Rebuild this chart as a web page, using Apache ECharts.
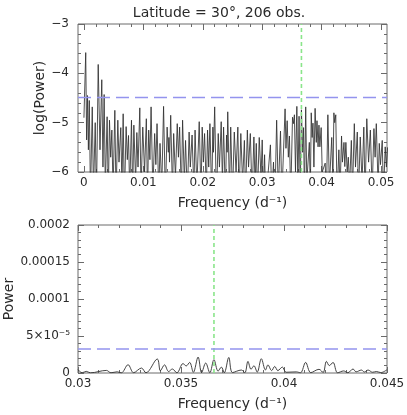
<!DOCTYPE html>
<html><head><meta charset="utf-8">
<script src="https://cdn.jsdelivr.net/npm/echarts@6/dist/echarts.min.js"></script>
<style>html,body{margin:0;padding:0;background:#fff}#c{width:407px;height:415px}</style>
</head><body><div id="c"></div>
<script>
// ---------- text ----------
const titleText = 'Latitude = 30°, 206 obs.';
const xAxisName = 'Frequency (d⁻¹)';
const topYName = 'log(Power)';
const bottomYName = 'Power';

// ---------- reference lines ----------
const markerFreq = 0.0366;          // vertical green dashed line
const topThresholdLog = -4.49;      // blue dashed line, log(Power)
const bottomThreshold = 3.24e-5;    // blue dashed line, Power

// ---------- tick labels ----------
const topXTicks = [0, 0.01, 0.02, 0.03, 0.04, 0.05];
const topXLabels = ['0', '0.01', '0.02', '0.03', '0.04', '0.05'];
const topYTicks = [-6, -5, -4, -3];
const topYLabels = ['−6', '−5', '−4', '−3'];
const bottomXTicks = [0.03, 0.035, 0.04, 0.045];
const bottomXLabels = ['0.03', '0.035', '0.04', '0.045'];
const bottomYTicks = [0, 5e-5, 1e-4, 1.5e-4, 2e-4];
const bottomYLabels = ['0', '5×10⁻⁵', '0.0001', '0.00015', '0.0002'];

// ---------- top panel: log power spectrum ----------
const topFreq = [
0.0000,0.0003,0.00045,0.0006,0.00075,0.0009,0.0011,0.0014,0.0016,0.0019,
0.0021,0.0024,0.0027,0.0030,0.0032,0.0034,0.0036,0.0039,0.0041,0.0043,
0.0045,0.0047,0.0049,0.0052,0.0054,0.0057,0.0059,0.0062,0.0064,0.0066,
0.0068,0.0071,0.0073,0.0075,0.0077,0.0080,0.0082,0.0084,0.0087,0.0089,
0.0091,0.0094,0.0096,0.0099,0.0102,0.0105,0.0107,0.0109,0.0111,0.0113,
0.0116,0.0119,0.0121,0.0123,0.0126,0.0128,0.0131,0.0134,0.0137,0.0140,
0.0142,0.0143,0.0144,0.0146,0.0149,0.0151,0.0154,0.0157,0.0159,0.0161,
0.0164,0.0166,0.0169,0.0171,0.0174,0.0177,0.0179,0.0182,0.0185,0.0187,
0.0190,0.0194,0.0197,0.0199,0.0201,0.0203,0.0206,0.0208,0.0210,0.0212,
0.0215,0.0217,0.0218,0.0220,0.0223,0.0226,0.0228,0.0231,0.0233,0.0235,
0.0238,0.0240,0.0241,0.0242,0.0245,0.0247,0.0250,0.0253,0.0256,0.0259,
0.0261,0.0264,0.0267,0.0270,0.0272,0.0275,0.0277,0.0280,0.0283,0.0286,
0.0288,0.0290,0.0292,0.0295,0.0298,0.0300,0.0302,0.0304,0.0306,0.03138,
0.0316,0.0319,0.0321,0.03243,0.0327,0.03308,0.0333,0.03385,0.0340,0.0342,
0.0344,0.03458,0.0348,0.0351,0.03525,0.03542,0.0356,0.03583,0.0360,0.0362,
0.0364,0.0366,0.0368,0.03696,0.0371,0.03732,0.0375,0.03793,0.0381,0.03825,
0.0384,0.03854,0.0387,0.0389,0.0391,0.03922,0.0394,0.03955,0.0397,0.03992,
0.0401,0.0406,0.0408,0.04105,0.0413,0.0417,0.0419,0.04206,0.0422,0.04238,
0.0426,0.0429,0.0431,0.04335,0.0435,0.04376,0.0439,0.04408,0.0443,0.04449,
0.0447,0.0450,0.0452,0.0455,0.0457,0.0460,0.0462,0.0465,0.0468,0.0471,
0.0473,0.0476,0.0479,0.0482,0.0485,0.0488,0.0490,0.0492,0.0495,0.0497,
0.0499,0.0502,0.0504,0.0507,0.0509,0.0511
];
const topLogPower = [
-4.9,-3.58,-5.35,-4.45,-5.55,-4.55,-6.5,-4.68,-6.4,-5.00,
-6.6,-3.82,-5.55,-4.13,-5.9,-4.43,-6.3,-4.88,-6.5,-4.95,
-5.7,-5.15,-6.4,-4.75,-6.5,-4.95,-5.8,-5.10,-6.3,-4.82,
-6.6,-5.08,-5.75,-5.26,-6.4,-4.95,-6.5,-5.05,-6.2,-5.20,
-5.9,-4.70,-6.4,-5.09,-6.0,-4.92,-6.5,-5.15,-5.75,-4.68,
-6.4,-5.22,-5.85,-5.02,-6.5,-5.42,-6.3,-4.67,-6.5,-5.09,
-5.6,-5.30,-5.8,-4.85,-6.4,-5.22,-6.1,-5.02,-5.7,-5.09,
-6.5,-4.95,-6.2,-5.36,-6.5,-5.19,-5.9,-5.25,-6.4,-5.15,
-6.3,-4.98,-6.5,-5.09,-5.8,-5.22,-6.4,-5.15,-5.9,-5.02,
-6.5,-5.09,-5.6,-4.68,-6.6,-5.22,-5.9,-4.98,-6.2,-5.09,
-6.5,-5.25,-5.6,-4.78,-6.4,-5.09,-6.5,-5.19,-6.0,-5.09,
-6.5,-5.22,-6.2,-5.36,-6.5,-5.15,-5.9,-5.22,-6.5,-5.29,
-6.3,-5.42,-6.5,-5.30,-6.1,-5.35,-6.5,-5.65,-6.6,-5.45,
-6.5,-5.8,-6.8,-4.95,-6.4,-5.17,-6.5,-4.72,-5.52,-4.96,
-5.7,-5.27,-6.5,-4.89,-5.02,-4.84,-6.0,-4.67,-6.3,-4.87,
-6.4,-4.74,-5.6,-5.10,-6.5,-4.68,-6.2,-5.40,-6.4,-4.80,
-5.30,-5.01,-5.9,-4.71,-5.40,-4.96,-5.49,-5.05,-5.49,-5.10,
-6.0,-5.82,-6.5,-4.84,-6.3,-5.30,-6.2,-4.80,-5.00,-4.84,
-6.5,-5.55,-6.4,-5.27,-5.8,-5.40,-5.89,-5.40,-6.0,-5.70,
-6.3,-5.36,-6.4,-5.02,-5.9,-5.19,-6.5,-5.29,-6.2,-5.09,
-6.5,-4.92,-5.8,-5.15,-6.4,-5.12,-5.7,-5.02,-6.3,-5.42,
-5.85,-5.36,-6.5,-5.49,-5.9,-5.5
];

// ---------- bottom panel: linear power, zoom 0.03–0.045 ----------
const bottomFreq = [
0.0300,0.0302,0.0304,0.0306,0.03138,0.0316,0.0319,0.0321,0.03243,0.0327,
0.03308,0.0333,0.03385,0.0340,0.0342,0.0344,0.03458,0.0348,0.0351,0.03525,
0.03542,0.0356,0.03583,0.0360,0.0362,0.0364,0.0366,0.0368,0.03696,0.0371,
0.03732,0.0375,0.03793,0.0381,0.03825,0.0384,0.03854,0.0387,0.0389,0.0391,
0.03922,0.0394,0.03955,0.0397,0.03992,0.0401,0.0406,0.0408,0.04105,0.0413,
0.0417,0.0419,0.04206,0.0422,0.04238,0.0426,0.0429,0.0431,0.04335,0.0435,
0.04376,0.0439,0.04408,0.0443,0.04449,0.0447,0.0450
];
const bottomPower = [
4.5e-6,0.3e-6,2.2e-6,0.25e-6,3.5e-6,0.3e-6,1.6e-6,0.15e-6,1.12e-5,0.4e-6,
6.7e-6,0.3e-6,1.89e-5,3.0e-6,1.1e-5,2.0e-6,5.4e-6,0.3e-6,1.28e-5,9.5e-6,
1.43e-5,1.0e-6,2.16e-5,0.5e-6,1.35e-5,0.4e-6,1.8e-5,2.5e-6,8.0e-6,0.3e-6,
2.1e-5,0.6e-6,4.0e-6,0.4e-6,1.57e-5,5.0e-6,9.8e-6,1.2e-6,1.93e-5,4.0e-6,
1.1e-5,3.2e-6,8.9e-6,3.2e-6,8.0e-6,1.0e-6,1.5e-6,0.3e-6,1.43e-5,0.5e-6,
5.0e-6,0.6e-6,1.57e-5,1.0e-5,1.43e-5,0.3e-6,2.8e-6,0.4e-6,5.4e-6,1.6e-6,
4.0e-6,1.3e-6,4.0e-6,1.0e-6,2.0e-6,0.5e-6,4.4e-6
];

// ---------- styling / layout ----------
const FONT = 'DejaVu Sans';
const TXT = '#2a2a2a';
const FRAME = '#6a6a6a';
const LINE = '#303030';
const GREEN = '#8ae58a';
const BLUE = '#9494ee';

function steps(a, b, n) { const out = []; for (let i = 0; i <= n; i++) out.push(+(a + (b - a) * i / n).toPrecision(8)); return out; }
const topXMinor = steps(0, 0.05, 25);
const topYMinor = steps(-6, -3, 15);
const bottomXMinor = steps(0.03, 0.045, 15);
const bottomYMinor = steps(0, 2e-4, 20);

function fmtFrom(ticks, labels) {
  return function (v) {
    for (let i = 0; i < ticks.length; i++) {
      const s = Math.max(Math.abs(ticks[i]), 1e-6);
      if (Math.abs(ticks[i] - v) < s * 1e-6 + 1e-12) return labels[i];
    }
    return '';
  };
}

function mkAxis(gridIndex, min, max, position, tickVals, tickLen, labelTicks, labelTexts, name, nameGap, labelMargin) {
  const ax = {
    type: 'value', gridIndex, min, max, position,
    axisLine: { show: false, onZero: false },
    splitLine: { show: false },
    axisTick: { show: true, inside: true, length: tickLen, customValues: tickVals, lineStyle: { color: FRAME, width: 1 } },
    axisLabel: { show: false },
    axisPointer: { show: false }
  };
  if (labelTicks) {
    ax.axisLabel = {
      show: true, customValues: labelTicks, formatter: fmtFrom(labelTicks, labelTexts),
      fontFamily: FONT, fontSize: 12, color: TXT, margin: labelMargin,
      showMinLabel: true, showMaxLabel: true, hideOverlap: false
    };
  }
  if (name) {
    ax.name = name; ax.nameLocation = 'middle'; ax.nameGap = nameGap;
    ax.nameMoveOverlap = false;
    ax.nameTextStyle = { fontFamily: FONT, fontSize: 14, color: TXT };
  }
  return ax;
}

const chart = echarts.init(document.getElementById('c'), null, { renderer: 'canvas' });

const topX = [-0.001, 0.051];
const topY = [-6, -3];
const botX = [0.03, 0.045];
const botY = [0, 2e-4];

const xAxes = [
  mkAxis(0, topX[0], topX[1], 'bottom', topXTicks, 6, topXTicks, topXLabels, xAxisName, 24, 5),
  mkAxis(0, topX[0], topX[1], 'bottom', topXMinor, 3),
  mkAxis(0, topX[0], topX[1], 'top', topXTicks, 6),
  mkAxis(0, topX[0], topX[1], 'top', topXMinor, 3),
  mkAxis(1, botX[0], botX[1], 'bottom', bottomXTicks, 6, bottomXTicks, bottomXLabels, xAxisName, 24, 5),
  mkAxis(1, botX[0], botX[1], 'bottom', bottomXMinor, 3),
  mkAxis(1, botX[0], botX[1], 'top', bottomXTicks, 6),
  mkAxis(1, botX[0], botX[1], 'top', bottomXMinor, 3)
];
const yAxes = [
  mkAxis(0, topY[0], topY[1], 'left', topYTicks, 6, topYTicks, topYLabels, topYName, 31, 9),
  mkAxis(0, topY[0], topY[1], 'left', topYMinor, 3),
  mkAxis(0, topY[0], topY[1], 'right', topYTicks, 6),
  mkAxis(0, topY[0], topY[1], 'right', topYMinor, 3),
  mkAxis(1, botY[0], botY[1], 'left', bottomYTicks, 6, bottomYTicks, bottomYLabels, bottomYName, 62, 8),
  mkAxis(1, botY[0], botY[1], 'left', bottomYMinor, 3),
  mkAxis(1, botY[0], botY[1], 'right', bottomYTicks, 6),
  mkAxis(1, botY[0], botY[1], 'right', bottomYMinor, 3)
];

// reference lines drawn as 2-point line series through the axes
function refSeries(xi, yi, pts, color, dash) {
  return {
    type: 'line', xAxisIndex: xi, yAxisIndex: yi, data: pts, z: 3,
    showSymbol: false, symbol: 'none', silent: true, clip: true,
    lineStyle: { color: color, type: dash, width: 1.6, opacity: 1 }
  };
}

chart.setOption({
  animation: false,
  backgroundColor: '#fff',
  graphic: [{
    type: 'text', x: 219, y: 13,
    style: { text: titleText, fontFamily: FONT, fontSize: 14, fill: TXT, textAlign: 'center', textVerticalAlign: 'middle' }
  }],
  grid: [
    { left: 78, top: 24, width: 309, height: 148, show: true, borderColor: FRAME, borderWidth: 1, backgroundColor: 'transparent', containLabel: false, outerBoundsMode: 'none' },
    { left: 78, top: 225, width: 309, height: 148, show: true, borderColor: FRAME, borderWidth: 1, backgroundColor: 'transparent', containLabel: false, outerBoundsMode: 'none' }
  ],
  xAxis: xAxes,
  yAxis: yAxes,
  series: [
    {
      type: 'line', xAxisIndex: 0, yAxisIndex: 0, z: 2,
      data: topFreq.map((f, i) => [f, topLogPower[i]]),
      showSymbol: false, symbol: 'none', clip: true,
      lineStyle: { color: LINE, width: 0.85 }
    },
    {
      type: 'line', xAxisIndex: 4, yAxisIndex: 4, z: 2,
      data: bottomFreq.map((f, i) => [f, bottomPower[i]]),
      showSymbol: false, symbol: 'none', clip: true, smooth: 0.35,
      lineStyle: { color: LINE, width: 0.9 }
    },
    refSeries(0, 0, [[markerFreq, topY[0]], [markerFreq, topY[1]]], GREEN, [4, 3]),
    refSeries(0, 0, [[topX[0], topThresholdLog], [topX[1], topThresholdLog]], BLUE, [13, 6]),
    refSeries(4, 4, [[markerFreq, botY[0]], [markerFreq, botY[1]]], GREEN, [4, 3]),
    refSeries(4, 4, [[botX[0], bottomThreshold], [botX[1], bottomThreshold]], BLUE, [13, 6])
  ]
});
</script>
</body></html>
